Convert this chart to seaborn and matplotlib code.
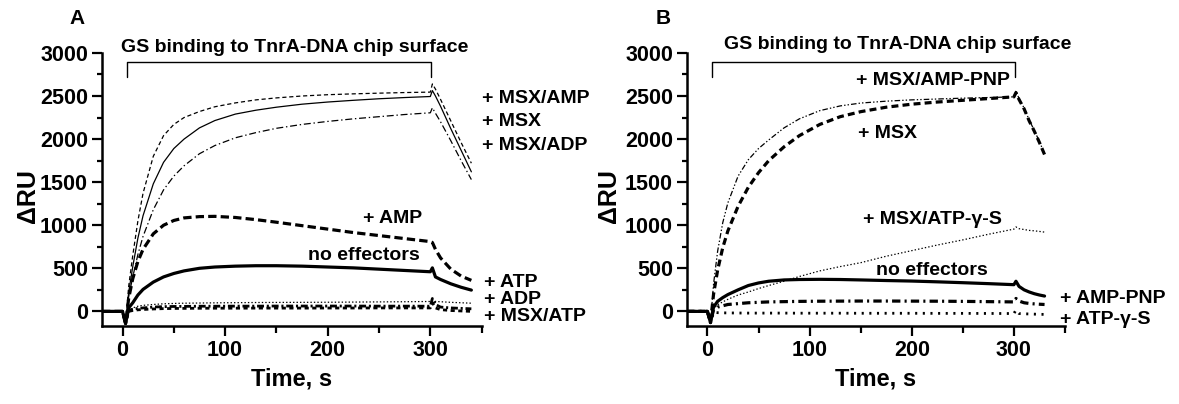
import numpy as np
import pandas as pd
import matplotlib
matplotlib.use("Agg")
import matplotlib.pyplot as plt
import seaborn as sns

# -----------------------------
# 1. DATA
# -----------------------------
time_a = [-20, 0, 3, 6, 10, 15, 20, 30, 40, 50, 60, 75, 90, 110, 130, 150,
          175, 200, 225, 250, 275, 300, 302, 305, 310, 320, 330, 340]

a_msx_amp = [0, 0, -140, 290, 650, 1050, 1370, 1800, 2040, 2170, 2250, 2320, 2375, 2420,
             2455, 2478, 2500, 2515, 2525, 2533, 2540, 2545, 2640, 2580, 2460, 2210, 1960, 1720]
a_msx = [0, 0, -140, 220, 520, 850, 1110, 1480, 1730, 1890, 2000, 2130, 2215, 2290,
         2335, 2370, 2405, 2430, 2450, 2468, 2482, 2494, 2563, 2500, 2380, 2120, 1870, 1620]
a_msx_adp = [0, 0, -140, 170, 400, 660, 870, 1180, 1410, 1570, 1690, 1830, 1925, 2015,
             2075, 2125, 2170, 2205, 2235, 2260, 2285, 2305, 2363, 2300, 2200, 1980, 1750, 1530]
a_amp = [0, 0, -140, 150, 380, 580, 720, 900, 1000, 1055, 1085, 1100, 1103, 1090,
         1065, 1035, 995, 955, 915, 880, 845, 810, 800, 720, 620, 490, 410, 360]
a_none = [0, 0, -140, 40, 100, 190, 255, 340, 400, 440, 470, 500, 515, 525,
          530, 530, 525, 515, 505, 490, 475, 460, 505, 400, 370, 320, 280, 247]
a_adp = [0, 0, -140, 10, 40, 60, 70, 80, 88, 92, 95, 97, 99, 101,
         103, 104, 105, 106, 108, 110, 112, 115, 130, 115, 112, 105, 100, 95]
a_atp = [0, 0, -140, 10, 25, 35, 40, 50, 55, 57, 58, 60, 60, 61,
         61, 62, 62, 62, 62, 61, 61, 60, 150, 80, 50, 40, 35, 30]
a_msx_atp = [0, 0, -140, 0, 10, 18, 22, 28, 32, 34, 35, 36, 37, 37,
             38, 38, 38, 39, 39, 40, 40, 40, 100, 40, 20, 10, 5, 0]

time_b = [-20, 0, 3, 6, 10, 15, 20, 30, 40, 50, 60, 75, 90, 110, 130, 150,
          175, 200, 225, 250, 275, 300, 302, 305, 310, 315, 320, 325, 330]

b_msx_amppnp = [0, 0, -130, 320, 700, 1030, 1260, 1570, 1760, 1890, 1990, 2130, 2235, 2330,
                2385, 2418, 2440, 2455, 2465, 2475, 2482, 2490, 2560, 2470, 2360, 2220, 2100, 1970, 1830]
b_msx = [0, 0, -130, 200, 480, 740, 934, 1220, 1440, 1610, 1750, 1910, 2040, 2170,
         2260, 2318, 2370, 2405, 2430, 2450, 2470, 2490, 2540, 2460, 2350, 2210, 2090, 1960, 1820]
b_msx_atpgs = [0, 0, -130, 30, 78, 110, 140, 190, 225, 265, 300, 350, 405, 470,
               520, 565, 640, 705, 770, 830, 895, 955, 980, 960, 950, 940, 935, 928, 920]
b_none = [0, 0, -130, 50, 117, 160, 195, 250, 300, 330, 350, 365, 370, 372,
          370, 365, 358, 352, 343, 333, 322, 310, 350, 290, 250, 225, 205, 190, 178]
b_amppnp = [0, 0, -130, 20, 50, 65, 80, 90, 100, 105, 110, 113, 116, 118,
            119, 120, 120, 119, 118, 116, 113, 110, 150, 120, 100, 92, 87, 83, 80]
b_atpgs = [0, 0, -130, -10, -15, -17, -18, -19, -20, -20, -20, -20, -21, -21,
           -21, -22, -22, -22, -23, -23, -24, -25, 15, -25, -28, -30, -32, -34, -35]

# -----------------------------
# 2. STYLE
# -----------------------------
sns.set_theme(style="ticks")
plt.rcParams["font.family"] = ["Liberation Sans", "DejaVu Sans"]
plt.rcParams["font.weight"] = "bold"
plt.rcParams["axes.labelweight"] = "bold"
plt.rcParams["lines.scale_dashes"] = False
for key in ["axes.edgecolor", "xtick.color", "ytick.color", "text.color", "axes.labelcolor"]:
    plt.rcParams[key] = "black"

THIN = 0.9
THICK = 2.3

series_a = [
    (a_msx_amp, THIN, (0, (3, 2))),
    (a_msx, THIN, "-"),
    (a_msx_adp, THIN, (0, (5, 2, 1, 2))),
    (a_amp, THICK, (0, (6, 3))),
    (a_none, THICK, "-"),
    (a_adp, THIN, (0, (1, 1.5))),
    (a_atp, 2.0, (0, (5, 2, 1.5, 2))),
    (a_msx_atp, 2.0, (0, (3, 2.5))),
]
series_b = [
    (b_msx_amppnp, THIN, (0, (4, 1.5, 1, 1.5, 1, 1.5))),
    (b_msx, THICK, (0, (5, 3))),
    (b_msx_atpgs, THIN, (0, (1, 1.5))),
    (b_none, THICK, "-"),
    (b_amppnp, THICK, (0, (6, 3, 1.5, 3))),
    (b_atpgs, 2.0, (0, (1.5, 4))),
]

labels_a = [
    ("+ MSX/AMP", 350, 2470, "left"),
    ("+ MSX", 350, 2200, "left"),
    ("+ MSX/ADP", 350, 1920, "left"),
    ("+ AMP", 263, 1077, "center"),
    ("no effectors", 235, 650, "center"),
    ("+ ATP", 352, 336, "left"),
    ("+ ADP", 352, 139, "left"),
    ("+ MSX/ATP", 352, -58, "left"),
]
labels_b = [
    ("+ MSX/AMP-PNP", 221, 2680, "center"),
    ("+ MSX", 176, 2060, "center"),
    ("+ MSX/ATP-\u03b3-S", 220, 1066, "center"),
    ("no effectors", 220, 480, "center"),
    ("+ AMP-PNP", 345, 152, "left"),
    ("+ ATP-\u03b3-S", 345, -93, "left"),
]

# -----------------------------
# 3. FIGURE
# -----------------------------
fig = plt.figure(figsize=(11.79, 4.04), dpi=100)
ax_a = fig.add_axes([0.0865, 0.193, 0.322, 0.676])
ax_b = fig.add_axes([0.5827, 0.193, 0.3206, 0.676])


def draw_panel(ax, t, series, labels, title_x, title_y):
    for vals, lw, ls in series:
        df = pd.DataFrame({"t": t, "v": vals})
        sns.lineplot(data=df, x="t", y="v", ax=ax, color="black", lw=lw,
                     linestyle=ls, estimator=None, errorbar=None, sort=False,
                     dash_capstyle="butt")

    # bracket for the injection period
    ax.plot([4, 4, 301, 301], [2720, 2900, 2900, 2720], color="black", lw=1.0)

    for txt, x, y, ha in labels:
        ax.text(x, y, txt, ha=ha, va="center", fontsize=14, fontweight="bold",
                clip_on=False)

    ax.set_xlim(-20, 350)
    ax.set_ylim(-170, 3000)
    ax.set_xticks([0, 100, 200, 300])
    ax.set_xticks([50, 150, 250, 350], minor=True)
    ax.set_yticks(np.arange(0, 3001, 500))
    ax.set_yticks(np.arange(250, 3000, 500), minor=True)
    ax.tick_params(axis="both", which="major", direction="out", width=1.6,
                   labelsize=15.5, pad=3)
    ax.tick_params(axis="x", which="major", length=7)
    ax.tick_params(axis="x", which="minor", length=5, width=1.6)
    ax.tick_params(axis="y", which="major", length=7)
    ax.tick_params(axis="y", which="minor", length=3.5, width=1.6)
    for lab in ax.get_xticklabels() + ax.get_yticklabels():
        lab.set_fontweight("bold")
    for side in ["top", "right"]:
        ax.spines[side].set_visible(False)
    for side in ["left", "bottom"]:
        ax.spines[side].set_linewidth(1.8)
    ax.set_xlabel("Time, s", fontsize=17, labelpad=5)
    ax.set_ylabel("")
    ax.text(title_x, title_y, "GS binding to TnrA-DNA chip surface", ha="center",
            va="center", fontsize=14, fontweight="bold", clip_on=False)


draw_panel(ax_a, time_a, series_a, labels_a, 168, 3060)
draw_panel(ax_b, time_b, series_b, labels_b, 186, 3100)

fig.text(0.0653, 0.955, "A", ha="center", va="center", fontsize=15, fontweight="bold")
fig.text(0.5623, 0.955, "B", ha="center", va="center", fontsize=15, fontweight="bold")
fig.text(28 / 1179, 1 - 196 / 404, "\u0394RU", rotation=90, ha="center", va="center",
         fontsize=18, fontweight="bold")
fig.text(609 / 1179, 1 - 196 / 404, "\u0394RU", rotation=90, ha="center", va="center",
         fontsize=18, fontweight="bold")

fig.savefig("out.png", dpi=100, facecolor="white")
